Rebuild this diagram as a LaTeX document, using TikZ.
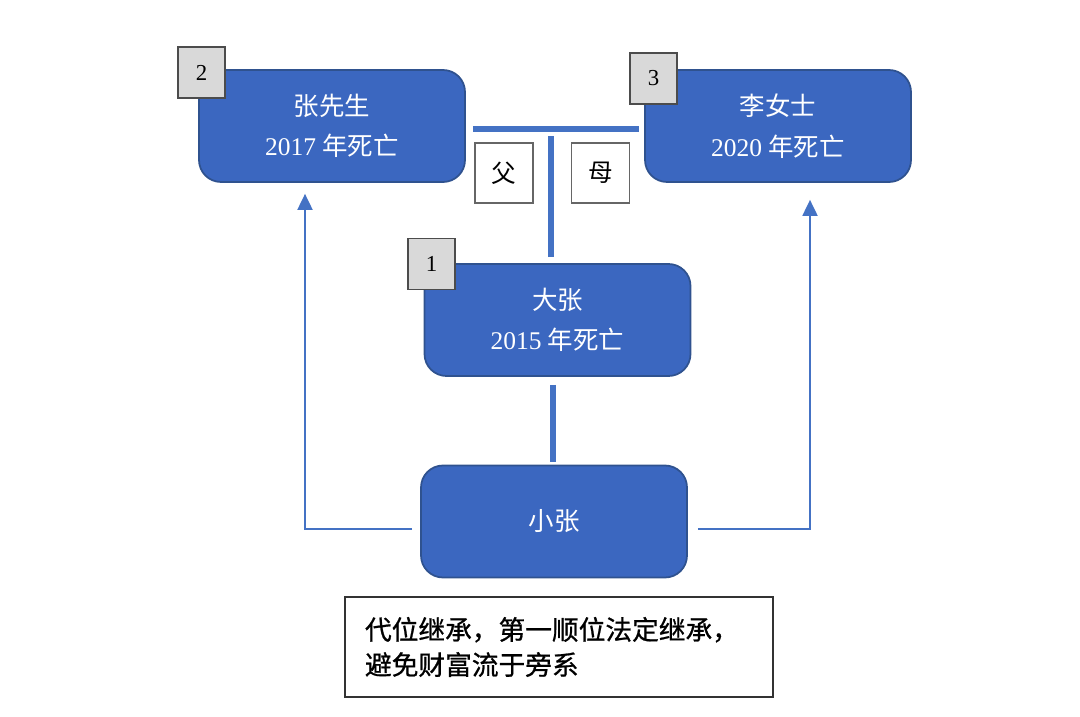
\documentclass[tikz,border=0pt]{standalone}
\usepackage{fontspec}
\setmainfont{Liberation Serif}
\newfontfamily\cjk{Noto Sans CJK SC}
\newfontfamily\cjknote[FakeBold=0.8]{Noto Sans CJK SC}
\usetikzlibrary{arrows.meta}
\definecolor{boxblue}{RGB}{59,103,192}
\definecolor{boxedge}{RGB}{47,82,143}
\definecolor{lineblue}{RGB}{68,114,196}
\definecolor{tabgray}{RGB}{217,217,217}

\begin{document}
\begin{tikzpicture}[
person/.style={rectangle, rounded corners=0.44cm, fill=boxblue, draw=boxedge, line width=1pt,
  minimum width=5.32cm, minimum height=2.24cm, text=white, align=center, font=\fontsize{14.5}{23}\selectfont},
tab/.style={rectangle, fill=tabgray, draw=black!70, line width=0.6pt,
  minimum width=0.94cm, minimum height=1.02cm, font=\fontsize{13}{13}\selectfont},
kin/.style={rectangle, draw=black!60, line width=0.6pt,
  minimum width=1.16cm, minimum height=1.2cm, font=\cjk\fontsize{14}{14}\selectfont},
bar/.style={color=lineblue, line width=3pt},
link/.style={color=lineblue, line width=1.1pt, -{Triangle[width=0.3cm,length=0.32cm]}}
]
\useasboundingbox (0,0) rectangle (21.6,14.32);

\node[person] (zhang) at (6.64,11.8) {{\cjk 张先生}\\2017 {\cjk 年死亡}};
\node[person] (li) at (15.56,11.8) {{\cjk 李女士}\\2020 {\cjk 年死亡}};
\node[person] (da) at (11.15,7.92) {{\cjk 大张}\\2015 {\cjk 年死亡}};
\node[person] (xiao) at (11.08,3.89) {\cjk 小张};

\node[tab] (n2) at (4.03,12.87) {2};
\node[tab] (n3) at (13.07,12.75) {3};
\node[tab] (n1) at (8.63,9.04) {1};

\node[kin] (fu) at (10.08,10.86) {父};
\node[kin] (mu) at (12.01,10.86) {母};

% parents line
\draw[bar] ([xshift=0.14cm,yshift=-0.06cm]zhang.east) -- ([xshift=-0.1cm,yshift=-0.06cm]li.west);
\draw[bar] ([xshift=-0.13cm,yshift=0.12cm]da.north) -- ++(0,2.42);
\draw[bar] ([xshift=-0.09cm,yshift=-0.16cm]da.south) -- ([xshift=-0.02cm,yshift=0.06cm]xiao.north);

% arrows up
\draw[link] ([xshift=-0.16cm,yshift=-0.15cm]xiao.west) -| ([xshift=-0.54cm,yshift=-0.22cm]zhang.south);
\draw[link] ([xshift=0.2cm,yshift=-0.15cm]xiao.east) -| ([xshift=0.64cm,yshift=-0.34cm]li.south);

\node[rectangle, draw=black!80, line width=0.6pt, minimum width=8.56cm, minimum height=2cm,
  text width=7.76cm, align=left, font=\cjknote\fontsize{15.2}{20}\selectfont] (note) at (11.18,1.38)
  {代位继承，第一顺位法定继承，\\避免财富流于旁系};
\end{tikzpicture}
\end{document}
